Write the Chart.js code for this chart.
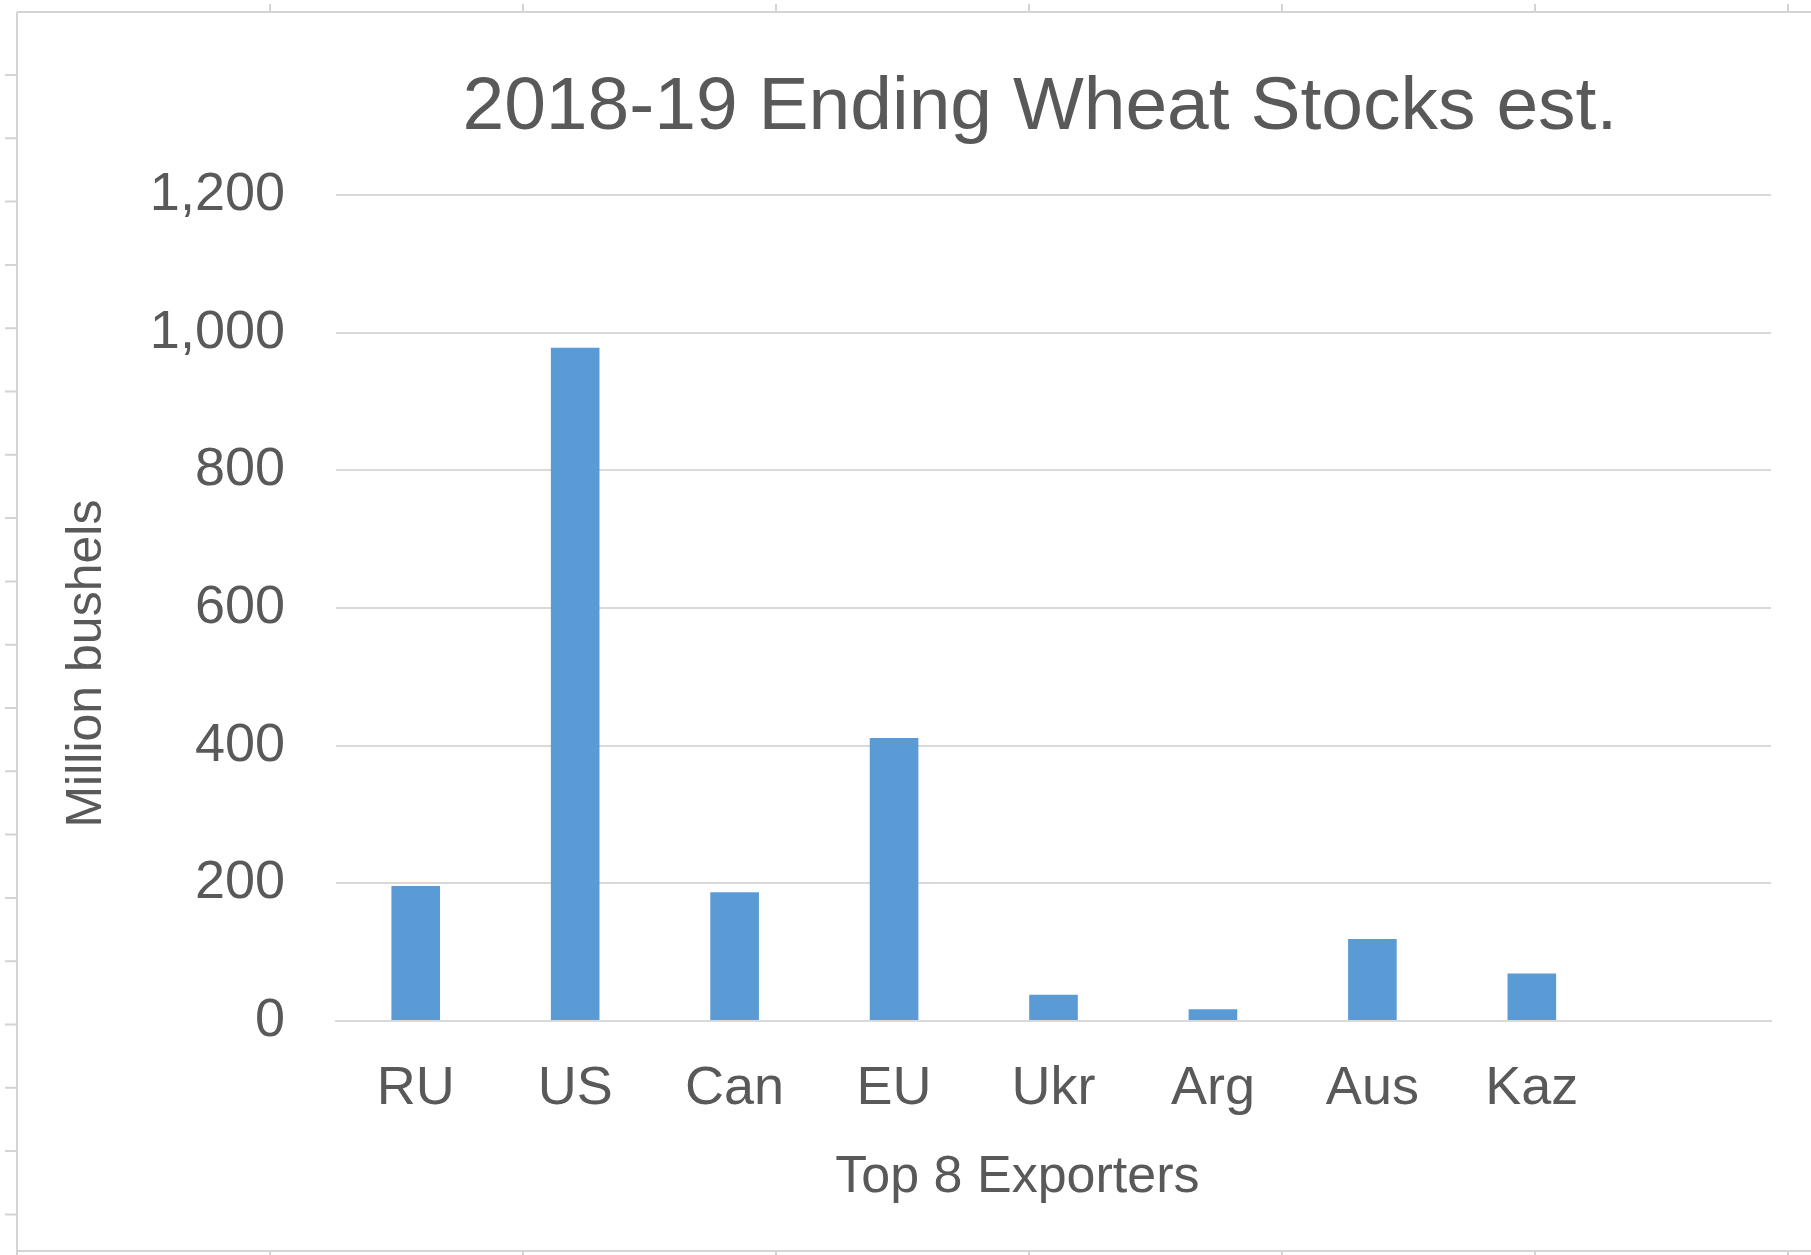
<!DOCTYPE html>
<html>
<head>
<meta charset="utf-8">
<title>2018-19 Ending Wheat Stocks est.</title>
<script src="https://cdn.jsdelivr.net/npm/chart.js@4/dist/chart.umd.min.js"></script>
<style>
    html, body { margin: 0; padding: 0; background: #fff; }
    #wrap { width: 1811px; height: 1255px; position: relative; }
</style>
</head>
<body>
<div id="wrap"><canvas id="stocks"></canvas></div>
<script>
// Top 8 exporters, last slot left empty like the sheet range
const exporters = ['RU', 'US', 'Can', 'EU', 'Ukr', 'Arg', 'Aus', 'Kaz', ''];
const endingStocks = [196, 978, 187, 411, 38, 17, 119, 69, null];
const yTicks = [0, 200, 400, 600, 800, 1000, 1200];

const TEXT = '#595959';
const GRID = '#d9d9d9';
const BAR = '#5b9bd5';
const FONT = "'Liberation Sans', Arial, sans-serif";

// spreadsheet cell border around the embedded chart
const sheetFrame = {
    id: 'sheetFrame',
    beforeDraw(chart) {
        const ctx = chart.ctx;
        ctx.save();
        ctx.strokeStyle = '#d4d4d4';
        ctx.lineWidth = 2;
        ctx.beginPath();
        ctx.moveTo(17, 12); ctx.lineTo(1811, 12);
        ctx.moveTo(17, 12); ctx.lineTo(17, 1255);
        ctx.moveTo(17, 1251); ctx.lineTo(1811, 1251);
        for (let x = 270; x < 1811; x += 253) {
            ctx.moveTo(x, 4); ctx.lineTo(x, 12);
            ctx.moveTo(x, 1251); ctx.lineTo(x, 1255);
        }
        for (let y = 75; y < 1255; y += 63.3) {
            ctx.moveTo(5, y); ctx.lineTo(17, y);
        }
        ctx.stroke();
        ctx.restore();
    }
};

new Chart(document.getElementById('stocks'), {
    type: 'bar',
    data: {
        labels: exporters,
        datasets: [{
            label: 'Ending stocks',
            data: endingStocks,
            backgroundColor: BAR,
            borderWidth: 0,
            categoryPercentage: 1,
            barPercentage: 0.305
        }]
    },
    options: {
        responsive: true,
        maintainAspectRatio: false,
        animation: false,
        layout: { padding: { top: 20, left: 17, right: 40, bottom: 4 } },
        plugins: {
            legend: { display: false },
            tooltip: { enabled: false },
            title: {
                display: true,
                // leading spaces push the title over the plot like in the sheet
                text: ' '.repeat(14) + '2018-19 Ending Wheat Stocks est.',
                color: TEXT,
                font: { family: FONT, size: 75, weight: 'normal' },
                padding: { top: 43, bottom: 42 }
            }
        },
        scales: {
            x: {
                grid: { display: false, drawTicks: false },
                border: { display: true, color: GRID, width: 2 },
                ticks: {
                    color: TEXT,
                    padding: 36,
                    maxRotation: 0,
                    font: { family: FONT, size: 54 }
                },
                title: {
                    display: true,
                    text: 'Top 8 Exporters' + '     ',
                    color: TEXT,
                    font: { family: FONT, size: 52 },
                    padding: { top: 0, bottom: 42 }
                },
                afterFit(scale) { scale.height = 230; }
            },
            y: {
                min: 0,
                max: 1200,
                afterBuildTicks(scale) {
                    scale.ticks = yTicks.map(v => ({ value: v }));
                },
                grid: { color: GRID, lineWidth: 2, drawTicks: false },
                border: { display: false },
                ticks: {
                    color: TEXT,
                    padding: 51,
                    font: { family: FONT, size: 54 },
                    callback: v => v.toLocaleString('en-US')
                },
                title: {
                    display: true,
                    text: 'Million bushels' + '        ',
                    color: TEXT,
                    font: { family: FONT, size: 50 },
                    padding: { top: 40, bottom: 0 }
                },
                afterFit(scale) { scale.width = 319; }
            }
        }
    },
    plugins: [sheetFrame]
});
</script>
</body>
</html>
